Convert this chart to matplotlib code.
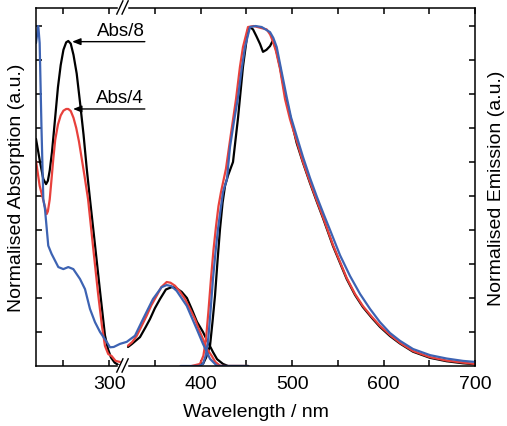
import numpy as np
import matplotlib
matplotlib.use("Agg")
import matplotlib.pyplot as plt

plt.rcParams['font.family'] = ['Liberation Sans', 'DejaVu Sans']

# ---------------- data ----------------
# UV absorption (left part of broken axis)
abs_uv_black_wl = [220, 224.4, 228, 231, 233, 235, 237.5, 240.8, 244, 247, 250, 253, 255.3, 258, 261,
                   264.5, 268.1, 272, 275.5, 279, 285, 290, 295.4, 298.7, 302, 306, 310, 312]
abs_uv_black = [0.668, 0.6, 0.55, 0.535, 0.545, 0.575, 0.63, 0.726, 0.82, 0.885, 0.93, 0.952, 0.956,
                0.948, 0.915, 0.86, 0.776, 0.68, 0.58, 0.491, 0.344, 0.22, 0.09, 0.05, 0.025, 0.01,
                0.003, 0.0]

abs_uv_red_wl = [220, 224, 227.7, 231.7, 233, 235, 237, 238.9, 241, 244, 247, 250, 253, 255.3, 258, 261,
                 264, 267, 270, 273, 276.9, 282.3, 288, 292, 295.4, 299, 302.8, 307, 311.8]
abs_uv_red = [0.603, 0.53, 0.491, 0.447, 0.455, 0.49, 0.55, 0.609, 0.665, 0.71, 0.737, 0.751, 0.756,
              0.756, 0.75, 0.73, 0.70, 0.66, 0.61, 0.56, 0.491, 0.353, 0.21, 0.12, 0.059, 0.035, 0.029,
              0.015, 0.012]

# blue absorption is continuous through the break
abs_blue_wl = [220, 222.5, 224, 226, 228, 229.8, 233.4, 237, 240.8, 244.4, 249.9, 255.3, 260.8, 268.1,
               273.6, 279, 284.5, 290, 297.3, 300.9, 305, 311.8, 319.2, 328.2, 337, 347.9, 357.4,
               362.9, 368, 373.8, 384.8, 395.7, 402.6, 410.3, 417.6, 425, 452]
abs_blue = [0.95, 1.0, 0.95, 0.7, 0.49, 0.462, 0.354, 0.33, 0.31, 0.291, 0.285, 0.291, 0.285, 0.256,
            0.226, 0.168, 0.129, 0.1, 0.071, 0.055, 0.056, 0.065, 0.071, 0.089, 0.138, 0.197, 0.232,
            0.238, 0.235, 0.221, 0.177, 0.109, 0.065, 0.021, 0.001, 0.0, 0.0]

# low-energy absorption band (right part)
abs_vis_black_wl = [320.6, 325, 333.7, 340, 344.6, 350, 355.6, 362, 368.4, 373, 379.3, 385, 390.2,
                    396, 402.6, 408, 413.5, 418, 424.5, 430, 452]
abs_vis_black = [0.056, 0.065, 0.085, 0.115, 0.138, 0.17, 0.197, 0.225, 0.232, 0.23, 0.218, 0.2, 0.168,
                 0.13, 0.1, 0.07, 0.041, 0.02, 0.006, 0.0, 0.0]

abs_vis_red_wl = [320.6, 325, 330.2, 335, 341, 346, 352, 357, 362.9, 367, 372, 377, 382.9, 388, 393.8,
                  398, 402.6, 407, 412.1, 416, 421.2, 426, 452]
abs_vis_red = [0.06, 0.07, 0.089, 0.115, 0.148, 0.178, 0.207, 0.232, 0.247, 0.245, 0.236, 0.22, 0.197,
               0.17, 0.138, 0.108, 0.079, 0.05, 0.03, 0.012, 0.001, 0.0, 0.0]

# emission
em_black_wl = [395, 402.6, 406, 410.3, 413, 415.7, 418.5, 421.2, 424, 426.7, 429.9, 435.4, 440.9, 446.3,
               451.8, 454.5, 457.3, 461, 465, 468.2, 472, 475.9, 479.1, 482.4, 486.8, 492.3, 497.7,
               505.0, 511.9, 519.6, 527.2, 533.8, 544.7, 559.7, 568.8, 577.5, 587.4, 596.1, 607.1,
               618.0, 632.2, 650.8, 669.0, 686.9, 700]
em_black = [0.0, 0.006, 0.025, 0.06, 0.13, 0.206, 0.31, 0.403, 0.48, 0.53, 0.56, 0.6, 0.73, 0.88,
            0.99, 0.996, 0.99, 0.97, 0.947, 0.924, 0.93, 0.941, 0.958, 0.932, 0.879, 0.8, 0.738,
            0.656, 0.598, 0.538, 0.482, 0.435, 0.353, 0.256, 0.209, 0.173, 0.141, 0.115, 0.088,
            0.066, 0.042, 0.024, 0.014, 0.008, 0.005]

em_red_wl = [390, 399.3, 403, 405.9, 408.5, 411.3, 414, 416.8, 419.5, 422.3, 427.7, 433, 438.7, 443,
             446.3, 451.8, 458, 465, 472.2, 476, 479, 482.4, 486.8, 492.3, 497.7, 505.0, 511.9, 519.6,
             527.2, 533.8, 544.7, 559.7, 568.8, 577.5, 587.4, 596.1, 607.1, 618.0, 632.2, 650.8,
             669.0, 686.9, 700]
em_red = [0.0, 0.006, 0.03, 0.08, 0.16, 0.256, 0.34, 0.41, 0.47, 0.512, 0.58, 0.68, 0.785, 0.88,
          0.938, 0.997, 1.0, 0.995, 0.99, 0.975, 0.955, 0.926, 0.874, 0.785, 0.726, 0.662, 0.6,
          0.541, 0.485, 0.438, 0.356, 0.259, 0.212, 0.176, 0.144, 0.118, 0.091, 0.068, 0.044,
          0.026, 0.016, 0.01, 0.006]

em_blue_wl = [378, 398, 402.6, 405.5, 408.1, 410.8, 413.5, 416.3, 419, 421.8, 424.5, 428.8, 432.1,
              436.5, 440.9, 444.7, 448.5, 454, 460, 466.8, 471, 475.9, 479.5, 483.2, 487.9, 494.1,
              498.8, 505.0, 511.9, 519.6, 527.2, 534.9, 541.5, 552.4, 563.3, 574.3, 585.2, 596.1,
              607.1, 618.0, 632.2, 650.8, 669.0, 686.9, 700]
em_blue = [0.0, 0.0, 0.006, 0.03, 0.071, 0.16, 0.256, 0.335, 0.403, 0.46, 0.512, 0.55, 0.644,
           0.72, 0.791, 0.87, 0.938, 0.997, 1.0, 0.997, 0.99, 0.982, 0.965, 0.938, 0.874, 0.791,
           0.732, 0.676, 0.615, 0.553, 0.497, 0.444, 0.400, 0.326, 0.265, 0.212, 0.168, 0.129,
           0.097, 0.074, 0.050, 0.032, 0.022, 0.015, 0.012]

xtick_pos = [250, 300, 350, 400, 450, 500, 550, 600, 650, 700]
xtick_labels = ['', '300', '', '400', '', '500', '', '600', '', '700']
ytick_pos = [0.1, 0.2, 0.3, 0.4, 0.5, 0.6, 0.7, 0.8, 0.9, 1.0]

BLACK = '#000000'
RED = '#e8413c'
BLUE = '#3d63b3'
LW = 1.6

# ---------------- figure ----------------
fig = plt.figure(figsize=(5.07, 4.27), dpi=100)
ax = fig.add_axes([36 / 507, 60 / 427, 439 / 507, 358 / 427])

for wl, v, c in [(abs_uv_black_wl, abs_uv_black, BLACK), (abs_vis_black_wl, abs_vis_black, BLACK),
                 (em_black_wl, em_black, BLACK),
                 (abs_uv_red_wl, abs_uv_red, RED), (abs_vis_red_wl, abs_vis_red, RED),
                 (em_red_wl, em_red, RED),
                 (abs_blue_wl, abs_blue, BLUE), (em_blue_wl, em_blue, BLUE)]:
    ax.plot(wl, v, color=c, lw=LW, solid_joinstyle='round', solid_capstyle='round')

ax.set_xlim(220, 700)
ax.set_ylim(0, 1.053)
ax.set_xticks(xtick_pos)
ax.set_xticklabels(xtick_labels)
ax.set_yticks(ytick_pos)
ax.tick_params(axis='both', direction='in', length=4.5, width=1.1, top=True, right=True,
               labelleft=False, labelsize=14, pad=6.5)
for s in ax.spines.values():
    s.set_linewidth(1.1)
ax.set_xlabel('Wavelength / nm', fontsize=14, labelpad=8)
ax.set_ylabel('Normalised Absorption (a.u.)', fontsize=14, labelpad=8)
ax.text(1.048, 0.5, 'Normalised Emission (a.u.)', transform=ax.transAxes, rotation=90,
        ha='center', va='center', fontsize=14)

# annotations
ax.annotate('', xy=(259.5, 0.954), xytext=(339, 0.954),
            arrowprops=dict(arrowstyle='-|>,head_length=0.5,head_width=0.2', color='black', lw=1.0,
                            shrinkA=0, shrinkB=0))
ax.text(286.5, 0.962, 'Abs/8', fontsize=13.5, ha='left', va='bottom')
ax.annotate('', xy=(260.5, 0.756), xytext=(339, 0.756),
            arrowprops=dict(arrowstyle='-|>,head_length=0.5,head_width=0.2', color='black', lw=1.0,
                            shrinkA=0, shrinkB=0))
ax.text(285.5, 0.764, 'Abs/4', fontsize=13.5, ha='left', va='bottom')

# axis break marks
tr = ax.transAxes
for y0, y1, yl in [(-0.017, 0.020, 0.0), (0.983, 1.020, 1.0)]:
    ax.plot([0.190, 0.205], [yl, yl], color='white', lw=2.5, transform=tr, clip_on=False, zorder=5)
    ax.plot([0.184, 0.198], [y0, y1], color='black', lw=1.0, transform=tr, clip_on=False, zorder=6)
    ax.plot([0.196, 0.210], [y0, y1], color='black', lw=1.0, transform=tr, clip_on=False, zorder=6)

fig.savefig('out.png', dpi=100)
